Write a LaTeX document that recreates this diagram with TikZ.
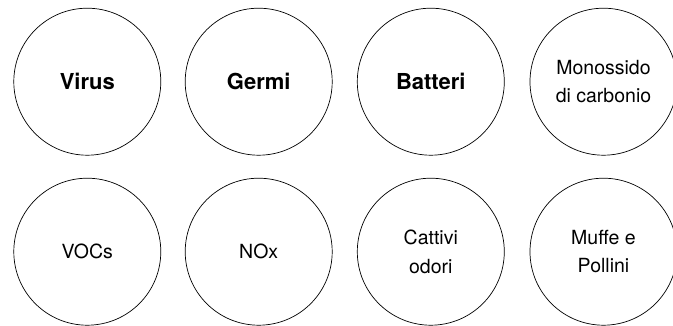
\documentclass[tikz,border=0pt]{standalone}
\usepackage{fontspec}
\setmainfont{TeX Gyre Heros}
\begin{document}
\begin{tikzpicture}[x=1pt,y=1pt,
  bubble/.style={draw=black, line width=0.7pt, circle, minimum size=147pt, inner sep=0pt, align=center, text=black},
  boldtxt/.style={font=\fontsize{22}{28}\selectfont\bfseries},
  regtxt/.style={font=\fontsize{19.5}{28.5}\selectfont}]
\useasboundingbox (0,0) rectangle (673,325);
\node[bubble,boldtxt] (virus) at (87.3,243.3) {Virus};
\node[bubble,boldtxt] (germi) at (258.7,243.3) {Germi};
\node[bubble,boldtxt] (batteri) at (430.8,243.3) {Batteri};
\node[bubble,regtxt] (co) at (603.5,243.3) {Monossido\\di carbonio};
\node[bubble,regtxt] (vocs) at (87.3,73.3) {VOCs};
\node[bubble,regtxt] (nox) at (258.7,73.3) {NOx};
\node[bubble,regtxt] (odori) at (430.8,73.3) {Cattivi\\odori};
\node[bubble,regtxt] (muffe) at (603.5,73.3) {Muffe e\\Pollini};
\end{tikzpicture}
\end{document}
